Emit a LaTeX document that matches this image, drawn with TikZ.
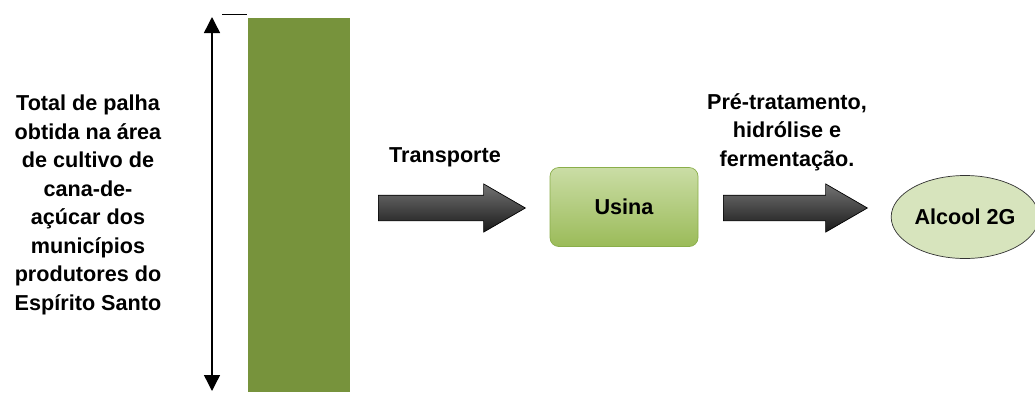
\documentclass[tikz,border=0pt]{standalone}
\usepackage{fontspec}
\setmainfont{Liberation Sans}
\usepackage{xcolor}
\usetikzlibrary{arrows.meta,shapes.geometric,shapes.arrows}
\definecolor{barra}{HTML}{77933C}
\definecolor{usinaTop}{HTML}{CADDA5}
\definecolor{usinaBot}{HTML}{9BBB59}
\definecolor{usinaBorda}{HTML}{8AAE4A}
\definecolor{elipse}{HTML}{D7E4BD}

\begin{document}
\begin{tikzpicture}[
  txt/.style={font=\fontsize{12.3}{16.2}\selectfont\bfseries, align=center},
  blk/.style={single arrow, draw=black, thin, top color=black!55, middle color=black, bottom color=black!90,
    inner xsep=0pt, inner ysep=0.25cm, single arrow head extend=0.225cm, single arrow tip angle=60, anchor=west},
  proc/.style={txt, draw=usinaBorda, rounded corners=5pt, top color=usinaTop, bottom color=usinaBot,
    minimum width=2.96cm, minimum height=1.58cm},
  prod/.style={txt, draw=black!80, ellipse, fill=elipse, minimum width=2.7cm, minimum height=1.66cm, inner sep=1pt},
  dupla/.style={{Triangle[length=3.2mm,width=3.2mm]}-{Triangle[length=3.2mm,width=3.2mm]}, line width=0.8pt},
]
\useasboundingbox (0,0) rectangle (20.7,7.84);
% coluna de palha
\node[txt] (total) at (1.76,3.74) {Total de palha\\obtida na área\\de cultivo de\\cana-de-\\açúcar dos\\municípios\\produtores do\\Espírito Santo};
\node[fill=barra, anchor=south west, minimum width=2.04cm, minimum height=7.48cm, inner sep=0] (palha) at (4.96,0) {};
\coordinate (topo) at (4.24,7.5);
\coordinate (base) at (4.24,0.02);
\draw[dupla] (topo) -- (base);
\coordinate (marcaA) at (4.44,7.55);
\coordinate (marcaB) at (4.94,7.55);
\draw[line width=0.8pt] (marcaA) -- (marcaB);
% fluxo
\node[txt] (transp) at (8.9,4.7) {Transporte};
\node[blk, minimum height=2.94cm] (seta1) at (7.56,3.68) {};
\node[proc] (usina) at (12.48,3.7) {Usina};
\node[txt] (etapas) at (15.74,5.2) {Pré-tratamento,\\hidrólise e\\fermentação.};
\node[blk, minimum height=2.88cm] (seta2) at (14.46,3.68) {};
\node[prod] (alcool) at (19.3,3.5) {Alcool 2G};
\end{tikzpicture}
\end{document}
